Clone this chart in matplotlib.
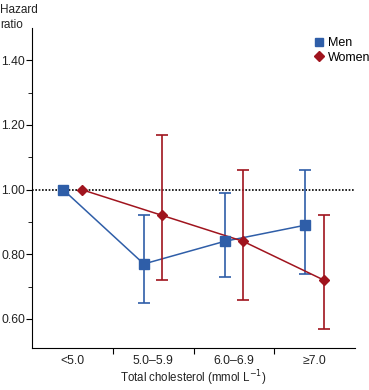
import matplotlib
matplotlib.use("Agg")
import matplotlib.pyplot as plt
from matplotlib.lines import Line2D
import numpy as np

plt.rcParams['font.family'] = ['Liberation Sans', 'DejaVu Sans']

categories = ["<5.0", "5.0–5.9", "6.0–6.9", "≥7.0"]
men_hr = [1.00, 0.77, 0.84, 0.89]
men_lo = [1.00, 0.65, 0.73, 0.74]
men_hi = [1.00, 0.92, 0.99, 1.06]
women_hr = [1.00, 0.92, 0.84, 0.72]
women_lo = [1.00, 0.72, 0.66, 0.57]
women_hi = [1.00, 1.17, 1.06, 0.92]

blue = "#2F5EA8"
red = "#A0141E"
txt = "#222222"

fig = plt.figure(figsize=(3.69, 3.90), dpi=100)
ax = fig.add_axes([32/369, 1-348/390, (355-32)/369, (348-28)/390])

x = np.arange(len(categories))
off = 0.115

def draw(xs, hr, lo, hi, color, marker, ms):
    hr = np.array(hr); lo = np.array(lo); hi = np.array(hi)
    ax.plot(xs, hr, color=color, lw=1.1, zorder=3)
    mask = hi > lo
    ax.errorbar(xs[mask], hr[mask], yerr=[hr[mask]-lo[mask], hi[mask]-hr[mask]],
                fmt='none', ecolor=color, elinewidth=1.2, capsize=4.3, capthick=1.2, zorder=3)
    ax.plot(xs, hr, ls='none', marker=marker, ms=ms, color=color, mec=color, zorder=4)

ax.axhline(1.0, color='black', lw=1.2, ls=(0, (1, 1)), zorder=2)
draw(x - off, men_hr, men_lo, men_hi, blue, 's', 7.5)
draw(x + off, women_hr, women_lo, women_hi, red, 'D', 5)

ax.set_xlim(-0.5, 3.5)
ax.set_ylim(0.51, 1.5)
ax.spines['top'].set_visible(False)
ax.spines['right'].set_visible(False)

ax.set_xticks([0.5, 1.5, 2.5])
ax.set_xticklabels([])
ax.set_xticks(x, minor=True)
ax.set_xticklabels(categories, minor=True, fontsize=8.8, color=txt)
ax.tick_params(axis='x', which='minor', length=0, pad=5)
ax.tick_params(axis='x', which='major', length=4, direction='out')

yt = [0.6, 0.8, 1.0, 1.2, 1.4]
ax.set_yticks(yt)
ax.set_yticklabels([f"{v:.2f}" for v in yt], fontsize=8.8, color=txt)
ax.set_yticks([0.7, 0.9, 1.1, 1.3], minor=True)
ax.tick_params(axis='y', which='major', length=4, direction='out', pad=1)
ax.tick_params(axis='y', which='minor', length=3, direction='out')

ax.set_xlabel("Total cholesterol (mmol L$^{-1}$)", fontsize=8.3, color=txt, labelpad=1)

fig.text(0.0, 1-4/390, "Hazard\nratio", fontsize=8.5, va='top', ha='left', color=txt, linespacing=1.3)

handles = [Line2D([], [], ls='none', marker='s', ms=6, color=blue),
           Line2D([], [], ls='none', marker='D', ms=5, color=red)]
fig.legend(handles, ["Men", "Women"], loc='upper left', bbox_to_anchor=(308/369, 1-31/390),
           frameon=False, fontsize=9, handlelength=0.8, handletextpad=0.3,
           labelspacing=0.2, borderpad=0)

fig.savefig("out.png", dpi=100)
